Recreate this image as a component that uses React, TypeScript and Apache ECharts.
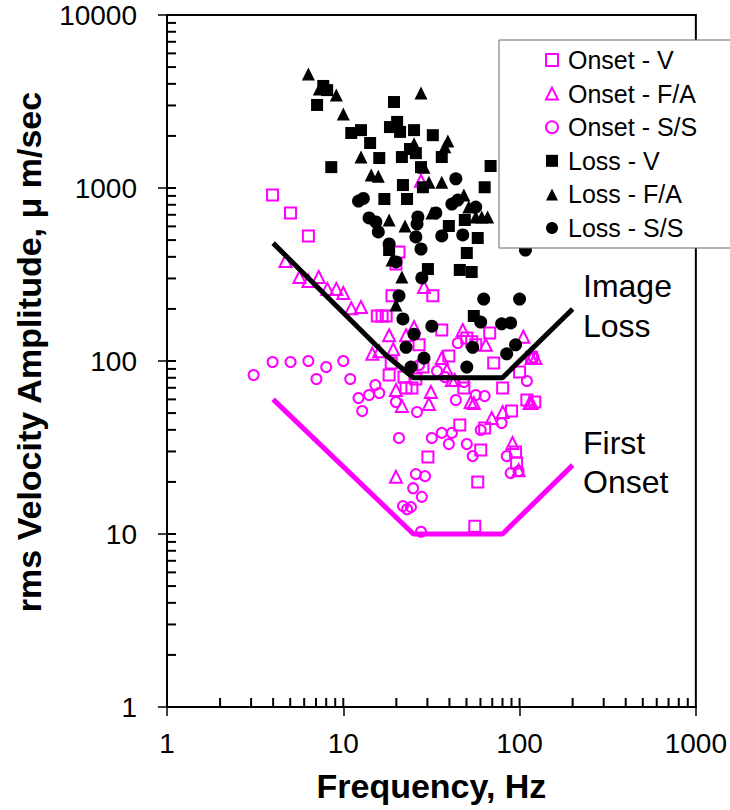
import React, { useEffect, useRef } from 'react';
import * as echarts from 'echarts';

// ---- data (frequency Hz, rms velocity µm/s) ----
const onsetV: [number, number][] = [
  [3.97, 911], [5.02, 717], [6.34, 528], [20.7, 427], [19.9, 364], [18.9, 238], [32.2, 238],
  [15.6, 182], [16.6, 182], [17.5, 182], [36.2, 151], [26.9, 124], [39.7, 107], [18.7, 97.4],
  [18.2, 83.0], [22.1, 80.8], [25.8, 78.7], [22.7, 69.8], [24.5, 69.8], [28.3, 92.3], [67.7, 145],
  [50.2, 136], [53.5, 129], [56.4, 124], [71.3, 97.4], [117, 105], [48.3, 69.8], [80.2, 69.8],
  [100, 86.4], [110, 59.5], [122, 57.9], [90.1, 51.4], [45.8, 42.7], [63.4, 41.0], [60.2, 30.6],
  [30.2, 27.9], [94.9, 29.8], [96.2, 25.7], [57.9, 20.0], [55.7, 11.1],
];
const onsetFA: [number, number][] = [
  [4.70, 378], [5.64, 306], [6.34, 290], [7.25, 306], [8.12, 261], [9.13, 261], [10.0, 247],
  [11.1, 202], [12.6, 205], [27.6, 1100], [28.7, 268], [18.2, 141], [22.7, 141], [25.2, 157],
  [47.6, 151], [105, 138], [14.6, 110], [16.0, 114], [19.2, 117], [36.2, 104], [38.7, 88.7],
  [41.3, 77.6], [42.9, 77.6], [31.4, 66.2], [19.9, 68.0], [21.5, 55.0], [30.6, 56.4], [52.8, 57.9],
  [55.0, 57.2], [64.3, 124], [117, 104], [123, 104], [114, 57.2], [117, 57.2], [69.5, 46.8],
  [80.2, 50.7], [91.2, 33.6], [98.7, 23.4], [19.9, 21.4],
];
const onsetSS: [number, number][] = [
  [3.10, 83.0], [3.97, 98.7], [5.02, 98.7], [6.34, 100], [8.0, 92.3], [10.0, 100], [7.04, 78.7],
  [10.95, 78.7], [15.2, 72.7], [14.0, 63.6], [16.0, 65.3], [12.2, 61.1], [12.8, 51.4], [19.9, 57.9],
  [26.2, 50.7], [26.9, 94.8], [34.0, 87.5], [37.7, 80.8], [44.6, 127], [43.5, 59.5], [48.3, 75.6],
  [56.4, 63.6], [63.4, 62.8], [20.7, 35.9], [31.8, 35.9], [36.2, 38.4], [41.3, 38.4], [39.7, 33.1],
  [50.2, 33.1], [54.2, 28.2], [60.2, 39.9], [79.1, 43.8], [84.5, 28.2], [89.0, 22.5], [98.7, 23.1],
  [110, 76.6], [120, 105], [25.8, 22.2], [29.1, 21.6], [24.9, 18.4], [27.9, 16.4], [21.8, 14.5],
  [23.0, 13.9], [24.2, 14.3], [27.6, 10.3],
];
const lossV: [number, number][] = [
  [7.7, 3890], [8.1, 3680], [7.1, 3020], [19.4, 3140], [20.2, 2410], [18.4, 2250], [21.0, 2110],
  [25.2, 2160], [11.1, 2080], [12.6, 2160], [14.2, 1820], [32.2, 2020], [23.9, 1680], [25.8, 1590],
  [21.5, 1510], [16.0, 1490], [36.2, 1510], [8.55, 1320], [27.6, 1320], [21.8, 1040], [28.3, 1010],
  [17.1, 864], [23.0, 864], [39.7, 603], [68.5, 1340], [63.4, 1010], [48.9, 653], [57.9, 514],
  [50.2, 421], [18.2, 438], [30.2, 340], [45.8, 336], [53.5, 327], [55.0, 182],
];
const lossFA: [number, number][] = [
  [6.34, 4560], [7.32, 3730], [9.13, 3450], [10.0, 2680], [27.6, 3540], [12.6, 1510], [14.4, 1190],
  [15.8, 1170], [25.2, 1800], [39.2, 1870], [37.7, 1730], [28.7, 1320], [30.6, 1080], [36.2, 1080],
  [18.2, 653], [22.4, 603], [31.8, 717], [48.3, 911], [51.5, 776], [56.4, 680], [61.0, 680],
  [65.9, 680], [18.9, 383], [21.5, 306], [19.9, 211],
];
const lossSS: [number, number][] = [
  [12.2, 841], [13.0, 870], [14.0, 671], [15.3, 636], [15.8, 557], [26.5, 680], [26.2, 619],
  [25.8, 521], [27.6, 444], [33.5, 717], [36.2, 528], [43.5, 1130], [41.3, 808], [44.6, 852],
  [47.6, 535], [56.4, 776], [18.2, 475], [19.9, 374], [27.9, 302], [20.7, 238], [62.6, 228],
  [100, 228], [108, 438], [21.8, 175], [31.8, 159], [25.2, 143], [22.7, 120], [28.7, 104],
  [24.2, 92.3], [60.2, 168], [79.1, 164], [89.0, 166], [54.2, 120], [94.9, 124], [84.5, 110],
  [50.2, 92.3],
];
const imageLoss: [number, number][] = [[4, 480], [17.5, 108], [25, 80], [80, 80], [200, 200]];
const firstOnset: [number, number][] = [[4, 60], [25, 10], [80, 10], [200, 25]];

// inner tick marks (log decades 1..1000 and 1..10000)
const xInnerTicks = [2, 3, 4, 5, 6, 7, 8, 9, 10, 20, 30, 40, 50, 60, 70, 80, 90, 100, 200, 300, 400, 500, 600, 700, 800, 900];
const yInnerTicks = [2, 3, 4, 5, 6, 7, 8, 9, 10, 20, 30, 40, 50, 60, 70, 80, 90, 100, 200, 300, 400, 500, 600, 700, 800, 900,
  1000, 2000, 3000, 4000, 5000, 6000, 7000, 8000, 9000];

const FONT = '"Liberation Sans", Arial, Helvetica, sans-serif';
const MAG = '#FF00FF';

export default function App() {
  const ref = useRef<HTMLDivElement>(null);
  useEffect(() => {
    if (!ref.current) return;
    const chart = echarts.init(ref.current, null, { renderer: 'svg' });
    const hollow = { color: 'rgba(0,0,0,0)', borderColor: MAG, borderWidth: 2, opacity: 1 };
    const filled = { color: '#000', borderWidth: 0, opacity: 1 };
    const option: any = {
      animation: false,
      backgroundColor: '#fff',
      textStyle: { fontFamily: FONT },
      grid: { left: 167, top: 15, width: 531, height: 692, show: true, borderColor: '#000', borderWidth: 2 },
      xAxis: {
        type: 'log', logBase: 10, min: 1, max: 1000,
        name: 'Frequency, Hz', nameLocation: 'middle', nameGap: 62,
        nameTextStyle: { fontSize: 34, fontWeight: 'bold', color: '#000', fontFamily: FONT },
        axisLine: { show: true, lineStyle: { color: '#000', width: 2 } },
        axisTick: { show: true, inside: false, length: 9, lineStyle: { color: '#000', width: 1.5 } },
        axisLabel: { fontSize: 28, color: '#000', margin: 22, fontFamily: FONT, formatter: (v: number) => String(Math.round(v)) },
        splitLine: { show: false },
      },
      yAxis: {
        type: 'log', logBase: 10, min: 1, max: 10000,
        name: 'rms Velocity Amplitude, \u03bc m/sec', nameLocation: 'middle', nameGap: 121,
        nameTextStyle: { fontSize: 34, fontWeight: 'bold', color: '#000', fontFamily: FONT, padding: [0, 0, 0, 18] },
        axisLine: { show: true, lineStyle: { color: '#000', width: 2 } },
        axisTick: { show: true, inside: false, length: 9, lineStyle: { color: '#000', width: 1.5 } },
        axisLabel: { fontSize: 28, color: '#000', margin: 30, fontFamily: FONT, formatter: (v: number) => String(Math.round(v)) },
        splitLine: { show: false },
      },
      legend: {
        orient: 'vertical', left: 499, top: 40,
        padding: [7, 60, 7, 46], itemGap: 7.6, itemWidth: 12, itemHeight: 12,
        backgroundColor: '#fff', borderColor: '#666', borderWidth: 1, z: 10,
        textStyle: { fontSize: 25, lineHeight: 26, color: '#000', fontFamily: FONT, padding: [0, 0, 0, 5] },
        data: [
          { name: 'Onset - V', icon: 'rect', itemStyle: hollow },
          { name: 'Onset - F/A', icon: 'triangle', itemStyle: hollow },
          { name: 'Onset - S/S', icon: 'circle', itemStyle: hollow },
          { name: 'Loss - V', icon: 'rect', itemStyle: filled },
          { name: 'Loss - F/A', icon: 'triangle', itemStyle: filled },
          { name: 'Loss - S/S', icon: 'circle', itemStyle: filled },
        ],
      },
      graphic: [
        { type: 'text', left: 583, top: 266, z: 20, style: { text: 'Image\nLoss', fontSize: 32, fontFamily: FONT, lineHeight: 40, fill: '#000' } },
        { type: 'text', left: 583, top: 423, z: 20, style: { text: 'First\nOnset', fontSize: 32, fontFamily: FONT, lineHeight: 39, fill: '#000' } },
      ],
      series: [
        { name: 'Onset - V', type: 'scatter', symbol: 'rect', symbolSize: 11, data: onsetV, itemStyle: hollow },
        { name: 'Onset - F/A', type: 'scatter', symbol: 'triangle', symbolSize: 12, data: onsetFA, itemStyle: hollow },
        { name: 'Onset - S/S', type: 'scatter', symbol: 'circle', symbolSize: 10, data: onsetSS, itemStyle: hollow },
        { name: 'Loss - V', type: 'scatter', symbol: 'rect', symbolSize: 12, data: lossV, itemStyle: filled },
        { name: 'Loss - F/A', type: 'scatter', symbol: 'triangle', symbolSize: 13, data: lossFA, itemStyle: filled },
        { name: 'Loss - S/S', type: 'scatter', symbol: 'circle', symbolSize: 13, data: lossSS, itemStyle: filled },
        { name: 'Image Loss', type: 'line', data: imageLoss, showSymbol: false, symbol: 'none', lineStyle: { color: '#000', width: 5 }, itemStyle: { color: '#000' }, z: 3 },
        { name: 'First Onset', type: 'line', data: firstOnset, showSymbol: false, symbol: 'none', lineStyle: { color: MAG, width: 5 }, itemStyle: { color: MAG }, z: 3 },
        {
          name: 'xInnerTicks', type: 'custom', clip: false, silent: true, z: 6,
          data: xInnerTicks.map((v) => [v, 1]),
          renderItem: (params: any, api: any) => {
            const pt = api.coord([xInnerTicks[params.dataIndex], 1]);
            return { type: 'line', shape: { x1: pt[0], y1: pt[1], x2: pt[0], y2: pt[1] - 9 }, style: { stroke: '#000', lineWidth: 2 } };
          },
        },
        {
          name: 'yInnerTicks', type: 'custom', clip: false, silent: true, z: 6,
          data: yInnerTicks.map((v) => [1, v]),
          renderItem: (params: any, api: any) => {
            const pt = api.coord([1, yInnerTicks[params.dataIndex]]);
            return { type: 'line', shape: { x1: pt[0], y1: pt[1], x2: pt[0] + 9, y2: pt[1] }, style: { stroke: '#000', lineWidth: 2 } };
          },
        },
      ],
    };
    chart.setOption(option);
    return () => chart.dispose();
  }, []);
  return <div ref={ref} style={{ position: 'absolute', left: 0, top: 0, width: 730, height: 810 }} />;
}
